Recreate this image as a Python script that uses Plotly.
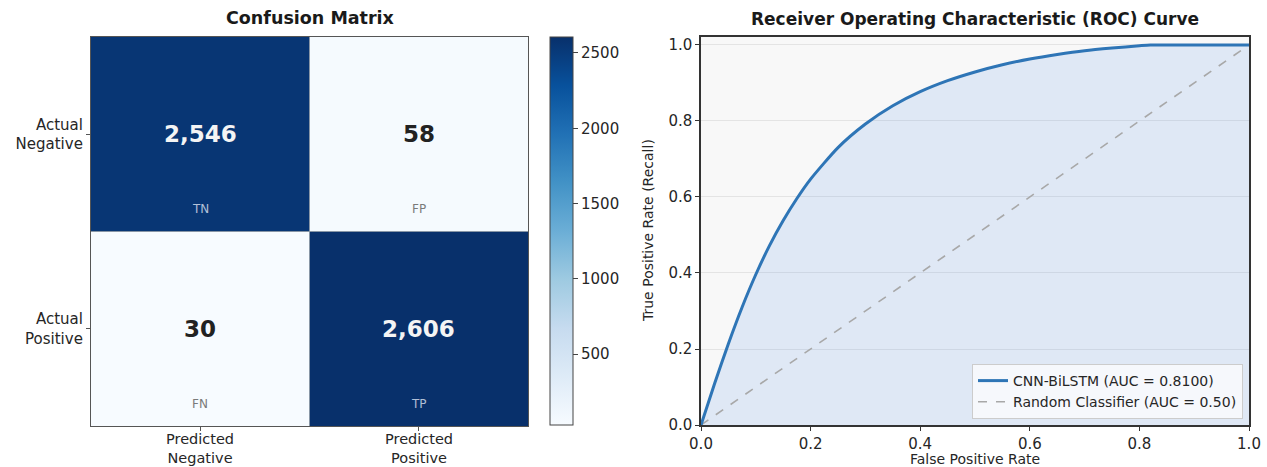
import plotly.graph_objects as go
import plotly.colors as pc

# ---- confusion matrix data ----
cm_values = [[2546, 58],
             [30, 2606]]
cm_tags = [["TN", "FP"],
           ["FN", "TP"]]
pred_labels = ["Predicted<br>Negative", "Predicted<br>Positive"]
actual_labels = ["Actual<br>Negative", "Actual<br>Positive"]
cbar_ticks = [500, 1000, 1500, 2000, 2500]

# ---- ROC data ----
roc_fpr = [0.0, 0.025, 0.05, 0.075, 0.1, 0.125, 0.15, 0.175, 0.2, 0.25,
           0.3, 0.35, 0.4, 0.45, 0.5, 0.55, 0.6, 0.65, 0.7, 0.75,
           0.8, 0.82, 0.9, 1.0]
roc_tpr = [0.0, 0.11, 0.214, 0.31, 0.396, 0.472, 0.538, 0.596, 0.647, 0.730,
           0.792, 0.840, 0.877, 0.906, 0.929, 0.948, 0.963, 0.975, 0.985, 0.992,
           0.998, 1.0, 1.0, 1.0]
rand_fpr = [0.0, 1.0]
rand_tpr = [0.0, 1.0]
model_auc = 0.8100
rand_auc = 0.50
roc_ticks = [0.0, 0.2, 0.4, 0.6, 0.8, 1.0]

W, H = 1267, 467
FONT = "DejaVu Sans"
TXT = "#262626"


def px_x(p):
    return p / W


def px_y(p):
    return 1 - p / H


fig = go.Figure()

zmin = min(min(r) for r in cm_values)
zmax = max(max(r) for r in cm_values)

fig.add_trace(go.Heatmap(
    z=cm_values, x=[0, 1], y=[0, 1],
    colorscale=pc.sequential.Blues,
    zmin=zmin, zmax=zmax,
    showscale=True,
    hoverinfo="skip",
    colorbar=dict(
        x=px_x(550), xanchor="left", xpad=0,
        y=px_y(231), yanchor="middle", ypad=0,
        len=388 / H, lenmode="fraction",
        thickness=23, thicknessmode="pixels",
        outlinewidth=1, outlinecolor="#444",
        ticks="outside", ticklen=5, tickcolor="#444",
        tickvals=cbar_ticks,
        tickfont=dict(family=FONT, size=15, color=TXT),
    ),
    xaxis="x", yaxis="y",
))

# ROC fill, curve and chance diagonal
fig.add_trace(go.Scatter(
    x=roc_fpr, y=roc_tpr, mode="lines",
    line=dict(width=0, shape="spline", smoothing=0.6),
    fill="tozeroy", fillcolor="rgba(100,150,230,0.165)",
    showlegend=False, hoverinfo="skip",
    xaxis="x2", yaxis="y2",
))
fig.add_trace(go.Scatter(
    x=rand_fpr, y=rand_tpr, mode="lines",
    line=dict(color="#a8a8a8", width=1.6, dash="dash"),
    name=f"Random Classifier (AUC = {rand_auc:.2f})",
    xaxis="x2", yaxis="y2",
))
fig.add_trace(go.Scatter(
    x=roc_fpr, y=roc_tpr, mode="lines",
    line=dict(color="#2E75B6", width=3, shape="spline", smoothing=0.6),
    name=f"CNN-BiLSTM (AUC = {model_auc:.4f})",
    xaxis="x2", yaxis="y2",
))

annotations = []
threshold = (zmin + zmax) / 2
for i, row in enumerate(cm_values):
    for j, v in enumerate(row):
        dark = v > threshold
        annotations.append(dict(
            x=j, y=i, xref="x", yref="y", text=f"<b>{v:,}</b>",
            showarrow=False, xanchor="center",
            font=dict(family=FONT, size=23, color="#f4f4f4" if dark else "#222222"),
        ))
        annotations.append(dict(
            x=j, y=i + 0.385, xref="x", yref="y", text=cm_tags[i][j],
            showarrow=False, xanchor="center",
            font=dict(family=FONT, size=12,
                      color="rgba(225,232,245,0.78)" if dark else "#7a7a7a"),
        ))

# predicted-class labels under the matrix
for j, lab in enumerate(pred_labels):
    annotations.append(dict(
        x=j, y=px_y(448), xref="x", yref="paper", text=lab,
        showarrow=False, xanchor="center", yanchor="middle",
        font=dict(family=FONT, size=14.5, color=TXT),
    ))

# titles
annotations.append(dict(
    x=px_x(310), y=px_y(18), xref="paper", yref="paper",
    text="<b>Confusion Matrix</b>", showarrow=False,
    xanchor="center", yanchor="middle",
    font=dict(family=FONT, size=17.5, color="#1a1a1a"),
))
annotations.append(dict(
    x=px_x(975), y=px_y(19), xref="paper", yref="paper",
    text="<b>Receiver Operating Characteristic (ROC) Curve</b>", showarrow=False,
    xanchor="center", yanchor="middle",
    font=dict(family=FONT, size=17, color="#1a1a1a"),
))
# ROC axis titles
annotations.append(dict(
    x=px_x(975), y=px_y(459), xref="paper", yref="paper",
    text="False Positive Rate", showarrow=False,
    xanchor="center", yanchor="middle",
    font=dict(family=FONT, size=14, color=TXT),
))
annotations.append(dict(
    x=px_x(648), y=px_y(231), xref="paper", yref="paper",
    text="True Positive Rate (Recall)", showarrow=False, textangle=-90,
    xanchor="center", yanchor="middle",
    font=dict(family=FONT, size=14, color=TXT),
))

# separators between matrix cells
shapes = [
    dict(type="line", xref="x", yref="y", x0=0.5, x1=0.5, y0=-0.5, y1=1.5,
         line=dict(color="#8896a6", width=1)),
    dict(type="line", xref="x", yref="y", x0=-0.5, x1=1.5, y0=0.5, y1=0.5,
         line=dict(color="#8896a6", width=1)),
]

fig.update_layout(
    width=W, height=H,
    margin=dict(l=0, r=0, t=0, b=0, autoexpand=False),
    paper_bgcolor="white",
    plot_bgcolor="#f8f8f8",
    font=dict(family=FONT, color=TXT),
    annotations=annotations,
    shapes=shapes,
    xaxis=dict(
        domain=[px_x(91), px_x(528)], range=[-0.5, 1.5],
        tickvals=[0, 1], showticklabels=False,
        ticks="outside", ticklen=4, tickcolor="#555",
        showgrid=False, zeroline=False, automargin=False,
        showline=True, mirror=True, linecolor="#555", linewidth=1.2,
        fixedrange=True,
    ),
    yaxis=dict(
        domain=[px_y(426), px_y(37)], range=[1.5, -0.5],
        tickvals=[0, 1], ticktext=actual_labels,
        tickfont=dict(family=FONT, size=15, color=TXT),
        ticks="outside", ticklen=4, tickcolor="#555",
        showgrid=False, zeroline=False, automargin=False,
        showline=True, mirror=True, linecolor="#555", linewidth=1.2,
        fixedrange=True,
    ),
    xaxis2=dict(
        domain=[px_x(701), px_x(1249)], range=[0, 1],
        anchor="y2",
        tickvals=roc_ticks, tickformat=".1f",
        tickfont=dict(family=FONT, size=15, color=TXT),
        ticks="outside", ticklen=4, tickcolor="#333",
        showgrid=False, zeroline=False, automargin=False,
        showline=True, mirror=True, linecolor="#333", linewidth=1.5,
    ),
    yaxis2=dict(
        domain=[px_y(425), px_y(37)], range=[0, 1.021],
        anchor="x2",
        tickvals=roc_ticks, tickformat=".1f",
        tickfont=dict(family=FONT, size=15, color=TXT),
        ticks="outside", ticklen=4, tickcolor="#333",
        showgrid=True, gridcolor="#e4e4e4", gridwidth=1,
        zeroline=False, automargin=False,
        showline=True, mirror=True, linecolor="#333", linewidth=1.5,
    ),
    legend=dict(
        x=px_x(1243), y=px_y(419), xanchor="right", yanchor="bottom",
        bgcolor="rgba(255,255,255,0.7)", bordercolor="#cccccc", borderwidth=1,
        font=dict(family=FONT, size=14, color=TXT),
        traceorder="reversed", tracegroupgap=0,
        itemwidth=30,
    ),
    showlegend=True,
)

fig.write_html("out.html")
